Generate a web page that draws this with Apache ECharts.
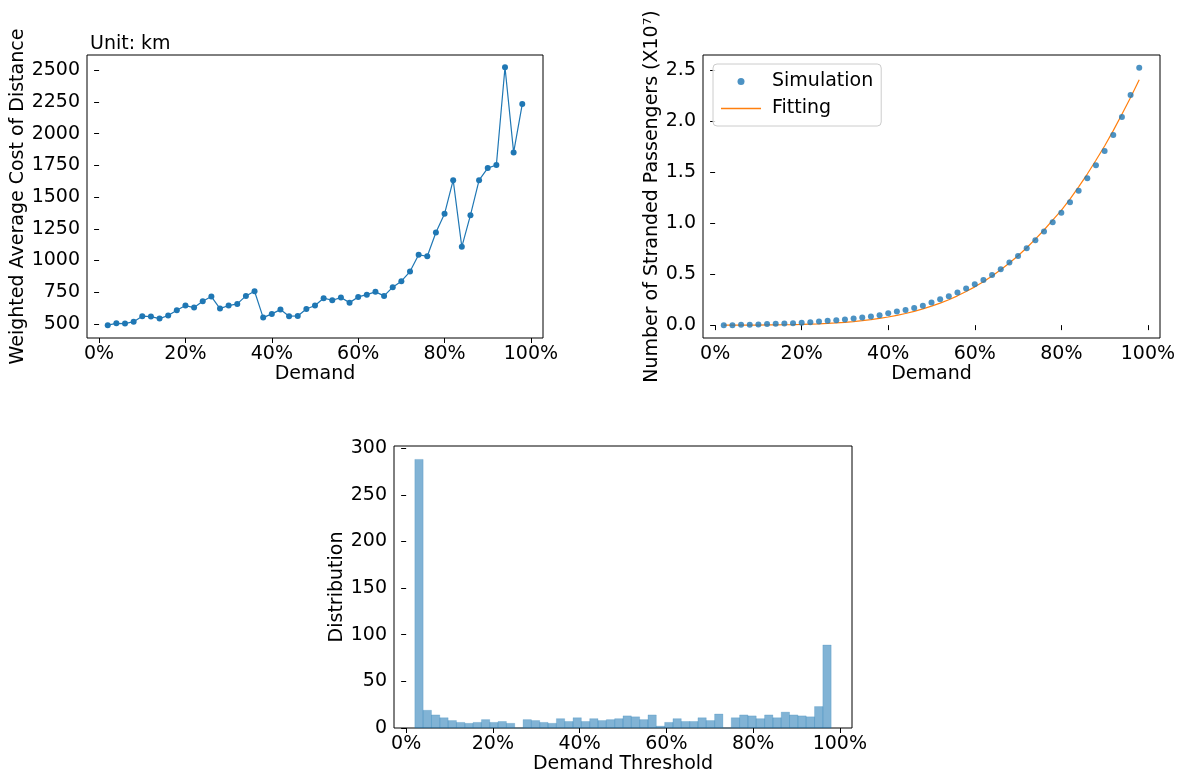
<!DOCTYPE html>
<html><head><meta charset="utf-8">
<script src="https://cdn.jsdelivr.net/npm/echarts@6/dist/echarts.min.js"></script>
<style>html,body{margin:0;padding:0;background:#fff}#c{width:1179px;height:771px}</style>
</head><body><div id="c"></div>
<script>
// ---------- data ----------
const demand = [2,4,6,8,10,12,14,16,18,20,22,24,26,28,30,32,34,36,38,40,42,44,46,48,50,
  52,54,56,58,60,62,64,66,68,70,72,74,76,78,80,82,84,86,88,90,92,94,96,98];
const costKm = [490,505,503,518,561,558,542,566,608,645,629,679,716,621,645,658,721,758,550,579,613,561,563,618,645,
  703,687,708,668,713,731,753,721,790,837,913,1045,1034,1221,1368,1634,1108,1358,1634,1729,1753,2524,1853,2234];
const stranded = [0,0,0.003,0.003,0.006,0.010,0.013,0.016,0.019,0.023,0.029,0.036,0.042,0.049,0.055,0.065,0.075,0.084,0.097,0.117,
  0.133,0.149,0.169,0.190,0.221,0.254,0.284,0.319,0.358,0.401,0.443,0.492,0.548,0.613,0.678,0.753,0.832,0.916,1.008,1.102,
  1.204,1.317,1.438,1.566,1.706,1.862,2.038,2.253,2.520];
const fitting = [0,0,0,0.001,0.001,0.002,0.003,0.004,0.005,0.007,0.010,0.013,0.017,0.022,0.028,0.035,0.044,0.054,0.066,0.080,
  0.096,0.114,0.135,0.159,0.186,0.216,0.249,0.287,0.329,0.375,0.425,0.481,0.542,0.608,0.680,0.758,0.842,0.932,1.029,1.125,
  1.235,1.355,1.480,1.615,1.755,1.905,2.065,2.230,2.403];
const binCounts = [288,19,14,11,8,6,5,6,9,6,7,5,0,9,8,6,5,10,7,11,7,10,8,9,10,
  13,12,9,14,2,6,10,7,7,11,8,15,0,11,14,13,10,14,11,17,14,13,12,23,89];
const binRange = [2, 98];
const pctTicks = [0,20,40,60,80,100];
const costTicks = [500,750,1000,1250,1500,1750,2000,2250,2500];
const strandedTicks = [0,0.5,1,1.5,2,2.5];
const distTicks = [0,50,100,150,200,250,300];

// ---------- styles ----------
const FONT = 'DejaVu Sans';
const FS = 19;
const BLUE = '#1f77b4', ORANGE = '#ff7f0e';
function axisBase(extra) {
  return Object.assign({
    type: 'value',
    axisLine: {show: false},
    splitLine: {show: false},
    axisTick: {show: true, length: 5, inside: false, lineStyle: {color: '#000', width: 1}},
    axisLabel: {color: '#000', fontSize: FS, fontFamily: FONT, margin: 7},
    nameLocation: 'middle',
    nameTextStyle: {color: '#000', fontSize: FS, fontFamily: FONT}
  }, extra);
}
function pctAxis(gridIndex, name, gap) {
  const a = axisBase({gridIndex, min: -2.8, max: 102.8, name, nameGap: gap});
  a.axisTick.customValues = pctTicks;
  a.axisLabel.customValues = pctTicks;
  a.axisLabel.formatter = v => v + '%';
  return a;
}
function yAxis(gridIndex, min, max, ticks, name, gap, fmt) {
  const a = axisBase({gridIndex, min, max, name, nameGap: gap, nameRotate: 90});
  a.axisTick.customValues = ticks;
  a.axisLabel.customValues = ticks;
  a.axisLabel.formatter = fmt || (v => String(v));
  return a;
}
const gridStyle = {show: true, borderColor: '#000', borderWidth: 1, backgroundColor: 'transparent', containLabel: false, outerBoundsMode: 'none'};
const binW = (binRange[1] - binRange[0]) / binCounts.length;

const chart = echarts.init(document.getElementById('c'), null, {renderer: 'canvas'});
chart.setOption({
  backgroundColor: '#fff',
  animation: false,
  textStyle: {fontFamily: FONT},
  title: {text: 'Unit: km', left: 90, top: 35, textStyle: {fontSize: FS, fontWeight: 'normal', color: '#000', fontFamily: FONT}, padding: 0},
  legend: {
    left: 713, top: 64, orient: 'vertical',
    itemWidth: 40, itemHeight: 7, itemGap: 8,
    padding: [8, 8, 8, 8],
    borderColor: '#cccccc', borderWidth: 1, borderRadius: 4,
    backgroundColor: 'rgba(255,255,255,0.8)',
    symbolKeepAspect: true,
    textStyle: {fontSize: FS, color: '#000', fontFamily: FONT, padding: [0, 0, 0, 6]},
    data: [
      {name: 'Simulation', icon: 'circle'},
      {name: 'Fitting', icon: 'path://M0,0L40,0L40,1.3L0,1.3Z'}
    ]
  },
  grid: [
    Object.assign({left: 87, top: 55, width: 456, height: 283}, gridStyle),
    Object.assign({left: 703, top: 55, width: 457, height: 283}, gridStyle),
    Object.assign({left: 394, top: 446, width: 458, height: 282}, gridStyle)
  ],
  xAxis: [
    pctAxis(0, 'Demand', 27),
    pctAxis(1, 'Demand', 27),
    pctAxis(2, 'Demand Threshold', 26)
  ],
  yAxis: [
    yAxis(0, 389, 2621, costTicks, 'Weighted Average Cost of Distance', 56),
    yAxis(1, -0.126, 2.646, strandedTicks, 'Number of Stranded Passengers (X10\u2077)', 38, v => v.toFixed(1)),
    yAxis(2, 0, 302.4, distTicks, 'Distribution', 43)
  ],
  series: [
    {
      type: 'line', xAxisIndex: 0, yAxisIndex: 0,
      data: demand.map((d, i) => [d, costKm[i]]),
      symbol: 'circle', symbolSize: 6, showSymbol: true,
      itemStyle: {color: BLUE}, lineStyle: {color: BLUE, width: 1.2}
    },
    {
      name: 'Simulation', type: 'scatter', xAxisIndex: 1, yAxisIndex: 1,
      data: demand.map((d, i) => [d, stranded[i]]),
      symbol: 'circle', symbolSize: 6, itemStyle: {color: BLUE}, z: 3
    },
    {
      name: 'Fitting', type: 'line', xAxisIndex: 1, yAxisIndex: 1,
      data: demand.map((d, i) => [d, fitting[i]]),
      symbol: 'none', showSymbol: false, smooth: false,
      itemStyle: {color: ORANGE}, lineStyle: {color: ORANGE, width: 1.2}, z: 2
    },
    {
      type: 'custom', xAxisIndex: 2, yAxisIndex: 2,
      data: binCounts.map((c, i) => [binRange[0] + i * binW, binRange[0] + (i + 1) * binW, c]),
      encode: {x: [0, 1], y: 2},
      renderItem: function (params, api) {
        const p0 = api.coord([api.value(0), 0]);
        const p1 = api.coord([api.value(1), api.value(2)]);
        return {
          type: 'rect',
          shape: {x: p0[0], y: p1[1], width: p1[0] - p0[0], height: p0[1] - p1[1]},
          style: {fill: 'rgba(31,119,180,0.56)', stroke: 'rgba(31,119,180,0.35)', lineWidth: 0.6}
        };
      }
    }
  ]
});
</script></body></html>
